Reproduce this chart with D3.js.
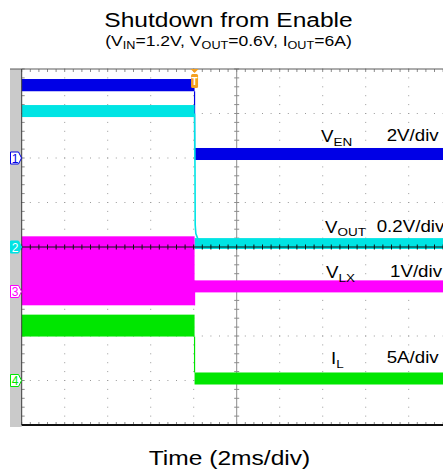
<!DOCTYPE html>
<html>
<head>
<meta charset="utf-8">
<script src="https://cdn.jsdelivr.net/npm/d3@7"></script>
<style>
  html, body { margin: 0; padding: 0; background: #fff; }
  svg { display: block; font-family: "Liberation Sans", Arial, sans-serif; }
</style>
</head>
<body>
<div id="chart"></div>
<script>
// ---- Data: scope capture, shutdown from enable ----
const titleText = "Shutdown from Enable";
const xLabel = "Time (2ms/div)";
const msPerDiv = 2;
const xDivs = 10;
const yDivs = 8;
const triggerMs = 8.04;

// channel names, scale per division, ground marker (in divisions from bottom)
const chNames = ["1", "2", "3", "4"];
const chLabelMain = ["V", "V", "V", "I"];
const chLabelSub = ["EN", "OUT", "LX", "L"];
const chScaleText = ["2V/div", "0.2V/div", "1V/div", "5A/div"];
const chPerDiv = [2, 0.2, 1, 5];
const chGroundDiv = [6, 4, 3, 1];
const chColors = ["#0000e6", "#00e4e4", "#ff00ff", "#00e600"];

// signal envelopes [min, max] before and after the enable edge (V or A)
const bandBefore = [[3.0, 3.55], [0.584, 0.638], [-0.31, 1.24], [4.94, 7.4]];
const bandAfter = [[-0.09, 0.45], [-0.009, 0.04], [-0.02, 0.25], [-0.45, 0.9]];

// output voltage discharge right after the edge: [ms, V]
const voutTail = [[8.04, 0.60], [8.06, 0.36], [8.07, 0.10], [8.10, 0.06], [8.2, 0.035], [8.35, 0.02]];

// ---- Layout ----
const W = 443, H = 476;
const plot = { left: 21.7, top: 69, right: 451.7, bottom: 425 };

const svg = d3.select("#chart").append("svg").attr("width", W).attr("height", H);

const x = d3.scaleLinear().domain([0, xDivs * msPerDiv]).range([plot.left, plot.right]);
const yDiv = d3.scaleLinear().domain([0, yDivs]).range([plot.bottom, plot.top]);
const chY = i => v => yDiv(chGroundDiv[i] + v / chPerDiv[i]);

// text helper with a slightly wide setting
const hStretch = 1.17;
function stretchedText(g, tx, ty, anchor, size, parts) {
  const t = g.append("text")
    .attr("transform", `translate(${tx},${ty}) scale(${hStretch},1)`)
    .attr("text-anchor", anchor)
    .attr("font-size", size)
    .attr("fill", "#000");
  parts.forEach(p => {
    const ts = t.append("tspan").text(p.t);
    if (p.sub) ts.attr("font-size", size * 0.72).attr("dy", size * 0.22);
    else if (p.back) ts.attr("dy", -size * 0.22);
  });
  return t;
}

// ---- Titles ----
stretchedText(svg, 228.5, 27, "middle", 21, [{ t: titleText }]);
stretchedText(svg, 228.5, 45.5, "middle", 15, [
  { t: "(V" }, { t: "IN", sub: true }, { t: "=1.2V, V", back: true }, { t: "OUT", sub: true },
  { t: "=0.6V, I", back: true }, { t: "OUT", sub: true }, { t: "=6A)", back: true }
]);

// ---- Scope frame ----
const frame = svg.append("g");
frame.append("rect").attr("x", 10).attr("y", plot.top).attr("width", plot.left - 10)
  .attr("height", plot.bottom - plot.top + 2).attr("fill", "#cacaca");

// dotted graticule
const grid = svg.append("g").attr("fill", "#999");
const xMinor = d3.range(0, xDivs * 5 + 1).map(k => k * msPerDiv / 5);
const yMinor = d3.range(0, yDivs * 5 + 1).map(k => k / 5);
for (let d = 1; d < yDivs; d++) {
  if (d === yDivs / 2) continue;
  xMinor.forEach(t => grid.append("rect").attr("x", x(t) - 0.5).attr("y", yDiv(d) - 0.5).attr("width", 1).attr("height", 1));
}
for (let d = 1; d < xDivs; d++) {
  if (d === xDivs / 2) continue;
  yMinor.forEach(v => grid.append("rect").attr("x", x(d * msPerDiv) - 0.5).attr("y", yDiv(v) - 0.5).attr("width", 1).attr("height", 1));
}

// center vertical axis (under the traces)
const cx = x(xDivs / 2 * msPerDiv);
svg.append("line").attr("x1", cx).attr("x2", cx).attr("y1", plot.top).attr("y2", plot.bottom)
  .attr("stroke", "#8c8c8c").attr("stroke-width", 1);
svg.append("g").selectAll("line").data(yMinor).join("line")
  .attr("x1", cx - 2.5).attr("x2", cx + 2.5).attr("y1", d => yDiv(d)).attr("y2", d => yDiv(d))
  .attr("stroke", "#8c8c8c");

// border ticks
const ticks = svg.append("g").attr("stroke", "#8c8c8c");
ticks.selectAll(".tt").data(xMinor).join("line").attr("class", "tt")
  .attr("x1", d => x(d)).attr("x2", d => x(d)).attr("y1", plot.top).attr("y2", plot.top + 3);
ticks.selectAll(".bt").data(xMinor).join("line").attr("class", "bt")
  .attr("x1", d => x(d)).attr("x2", d => x(d)).attr("y1", plot.bottom - 3).attr("y2", plot.bottom);
ticks.selectAll(".lt").data(yMinor).join("line").attr("class", "lt")
  .attr("x1", plot.left).attr("x2", plot.left + 3).attr("y1", d => yDiv(d)).attr("y2", d => yDiv(d));

// ---- Traces ----
const traces = svg.append("g");
chNames.forEach((n, i) => {
  const yy = chY(i);
  const c = chColors[i];
  // envelope before the edge
  traces.append("rect")
    .attr("x", x(0)).attr("width", x(triggerMs) - x(0))
    .attr("y", yy(bandBefore[i][1])).attr("height", yy(bandBefore[i][0]) - yy(bandBefore[i][1]))
    .attr("fill", c);
  // envelope after the edge
  traces.append("rect")
    .attr("x", x(triggerMs)).attr("width", x(xDivs * msPerDiv) - x(triggerMs))
    .attr("y", yy(bandAfter[i][1])).attr("height", yy(bandAfter[i][0]) - yy(bandAfter[i][1]))
    .attr("fill", c);
  // falling edge
  if (i !== 1) {
    traces.append("line")
      .attr("x1", x(triggerMs)).attr("x2", x(triggerMs))
      .attr("y1", yy(bandBefore[i][0])).attr("y2", yy(bandAfter[i][1]))
      .attr("stroke", c).attr("stroke-width", 1.2);
  }
});
// output discharge
traces.append("path")
  .datum(voutTail)
  .attr("d", d3.line().x(d => x(d[0])).y(d => chY(1)(d[1])))
  .attr("fill", "none").attr("stroke", chColors[1]).attr("stroke-width", 1.6);

// center horizontal axis (drawn over the traces)
const cy = yDiv(yDivs / 2);
svg.append("line").attr("x1", plot.left).attr("x2", W).attr("y1", cy).attr("y2", cy)
  .attr("stroke", "#111").attr("stroke-width", 1);
svg.append("g").selectAll("line").data(xMinor).join("line")
  .attr("x1", d => x(d)).attr("x2", d => x(d)).attr("y1", cy - 2.5).attr("y2", cy + 2.5)
  .attr("stroke", "#111");

// frame lines
svg.append("line").attr("x1", 10).attr("x2", W).attr("y1", plot.top).attr("y2", plot.top)
  .attr("stroke", "#5a5a5a").attr("stroke-width", 1);
svg.append("line").attr("x1", plot.left).attr("x2", plot.left).attr("y1", plot.top).attr("y2", plot.bottom)
  .attr("stroke", "#3a3a3a").attr("stroke-width", 1);
svg.append("line").attr("x1", plot.left).attr("x2", W).attr("y1", plot.bottom).attr("y2", plot.bottom)
  .attr("stroke", "#111").attr("stroke-width", 2);

// ---- Channel ground markers ----
chNames.forEach((n, i) => {
  const gy = yDiv(chGroundDiv[i]);
  const filled = i === 1;
  const g = svg.append("g").attr("transform", `translate(10,${gy})`);
  g.append("path")
    .attr("d", "M0.5,-6 L8.5,-6 L11.5,0 L8.5,6 L0.5,6 Z")
    .attr("fill", filled ? chColors[i] : "#fff")
    .attr("stroke", chColors[i]).attr("stroke-width", 1);
  g.append("text").attr("x", 5).attr("y", 4.5).attr("text-anchor", "middle")
    .attr("font-size", 12).attr("fill", filled ? "#fff" : chColors[i]).text(n);
});

// ---- Trigger marker ----
const tx = x(triggerMs);
const trig = svg.append("g").attr("transform", `translate(${tx},${plot.top})`);
trig.append("path").attr("d", "M-4,0 L4,0 L0,4 Z").attr("fill", "#f5a020");
trig.append("rect").attr("x", -3.5).attr("y", 5).attr("width", 7).attr("height", 14).attr("rx", 1.5)
  .attr("fill", "#f5a020");
trig.append("text").attr("x", 0).attr("y", 16).attr("text-anchor", "middle")
  .attr("font-size", 10).attr("font-weight", "bold").attr("fill", "#fff").text("T");

// ---- Channel labels ----
const labelPos = [[321, 142, 386.7, 141], [325, 232.5, 376.7, 232], [326, 278, 390, 277], [331, 364, 386.7, 363]];
chNames.forEach((n, i) => {
  const p = labelPos[i];
  stretchedText(svg, p[0], p[1], "start", 16, [{ t: chLabelMain[i] }, { t: chLabelSub[i], sub: true }]);
  stretchedText(svg, p[2], p[3], "start", 16, [{ t: chScaleText[i] }]);
});

// ---- X label ----
stretchedText(svg, 229.5, 465, "middle", 21, [{ t: xLabel }]);
</script>
</body>
</html>
